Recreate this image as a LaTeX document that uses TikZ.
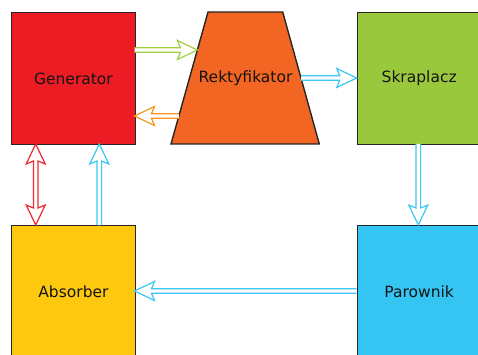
\documentclass[tikz,border=0pt]{standalone}
\usepackage{fontspec}
\setmainfont{DejaVu Sans}
\usetikzlibrary{calc}
\definecolor{cRed}{HTML}{ED1C24}
\definecolor{cOrange}{HTML}{F26522}
\definecolor{cGreen}{HTML}{99C83C}
\definecolor{cYellow}{HTML}{FDC80D}
\definecolor{cBlue}{HTML}{35C5F2}
\definecolor{aGreen}{HTML}{A3CF45}
\definecolor{aOrange}{HTML}{F7941D}
\definecolor{aBlue}{HTML}{3CC6F3}
\definecolor{aRed}{HTML}{EE2A2F}
\definecolor{ink}{HTML}{141414}
\tikzset{
  box/.style={draw=black!85, line width=1.4pt, minimum width=123.5pt, minimum height=132pt,
    inner sep=0pt, anchor=north west, text=ink, font=\fontsize{15.5}{18}\selectfont},
  lbl/.style={text=ink, font=\fontsize{15.5}{18}\selectfont, inner sep=0pt},
  harrow/.style={line width=1.2pt, fill=white, line join=miter,
    to path={let \p1=(\tikztostart), \p2=(\tikztotarget),
      \n1={atan2(\y2-\y1,\x2-\x1)}, \n2={veclen(\x2-\x1,\y2-\y1)},
      \n3={\n2-17}, \n4={\n2-20} in
      ([shift={(\p1)},rotate=\n1]0,2.3) -- ([shift={(\p1)},rotate=\n1]\n3,2.3)
      -- ([shift={(\p1)},rotate=\n1]\n4,9.5) -- ([shift={(\p1)},rotate=\n1]\n2,0)
      -- ([shift={(\p1)},rotate=\n1]\n4,-9.5) -- ([shift={(\p1)},rotate=\n1]\n3,-2.3)
      -- ([shift={(\p1)},rotate=\n1]0,-2.3)}},
  darrow/.style={line width=1.2pt, fill=white, line join=miter,
    to path={let \p1=(\tikztostart), \p2=(\tikztotarget),
      \n1={atan2(\y2-\y1,\x2-\x1)}, \n2={veclen(\x2-\x1,\y2-\y1)},
      \n3={\n2-17}, \n4={\n2-20} in
      ([shift={(\p1)},rotate=\n1]17,2.3) -- ([shift={(\p1)},rotate=\n1]\n3,2.3)
      -- ([shift={(\p1)},rotate=\n1]\n4,9.5) -- ([shift={(\p1)},rotate=\n1]\n2,0)
      -- ([shift={(\p1)},rotate=\n1]\n4,-9.5) -- ([shift={(\p1)},rotate=\n1]\n3,-2.3)
      -- ([shift={(\p1)},rotate=\n1]17,-2.3) -- ([shift={(\p1)},rotate=\n1]20,-9.5)
      -- ([shift={(\p1)},rotate=\n1]0,0) -- ([shift={(\p1)},rotate=\n1]20,9.5) -- cycle}},
}
\begin{document}
\begin{tikzpicture}[x=1pt,y=-1pt]
\useasboundingbox (0,0) rectangle (478,355);
\clip (0,0) rectangle (478,355);
\fill[white] (0,0) rectangle (478,355);
% boxes
\node[box, fill=cRed] (gen) at (11,12) {Generator};
\node[box, fill=cGreen] (skr) at (356.7,12) {Skraplacz};
\node[box, fill=cYellow] (abs) at (11,225) {Absorber};
\node[box, fill=cBlue] (par) at (356.7,225) {Parownik};
\filldraw[fill=cOrange, draw=black!85, line width=1.4pt]
  (171,144) -- (208,12) -- (282.7,12) -- (319.3,144) -- cycle;
\node[lbl] (rek) at (245.5,78) {Rektyfikator};
% connector end points
\coordinate (g1) at (134.5,50);  \coordinate (r1) at (197.4,50);
\coordinate (r2) at (178.9,116); \coordinate (g2) at (134.5,116);
\coordinate (r3) at (301,78);    \coordinate (s1) at (356.7,78);
\coordinate (s2) at (418.3,144); \coordinate (p1) at (418.3,225);
\coordinate (p2) at (356.7,291); \coordinate (a1) at (134.5,291);
\coordinate (a2) at (99.3,225);  \coordinate (g3) at (99.3,144);
\coordinate (g4) at (35.7,144);  \coordinate (a3) at (35.7,225);
% connectors
\draw[harrow, draw=aGreen] (g1) to (r1);
\draw[harrow, draw=aOrange] (r2) to (g2);
\draw[harrow, draw=aBlue] (r3) to (s1);
\draw[harrow, draw=aBlue] (s2) to (p1);
\draw[harrow, draw=aBlue] (p2) to (a1);
\draw[harrow, draw=aBlue] (a2) to (g3);
\draw[darrow, draw=aRed] (g4) to (a3);
\end{tikzpicture}
\end{document}
